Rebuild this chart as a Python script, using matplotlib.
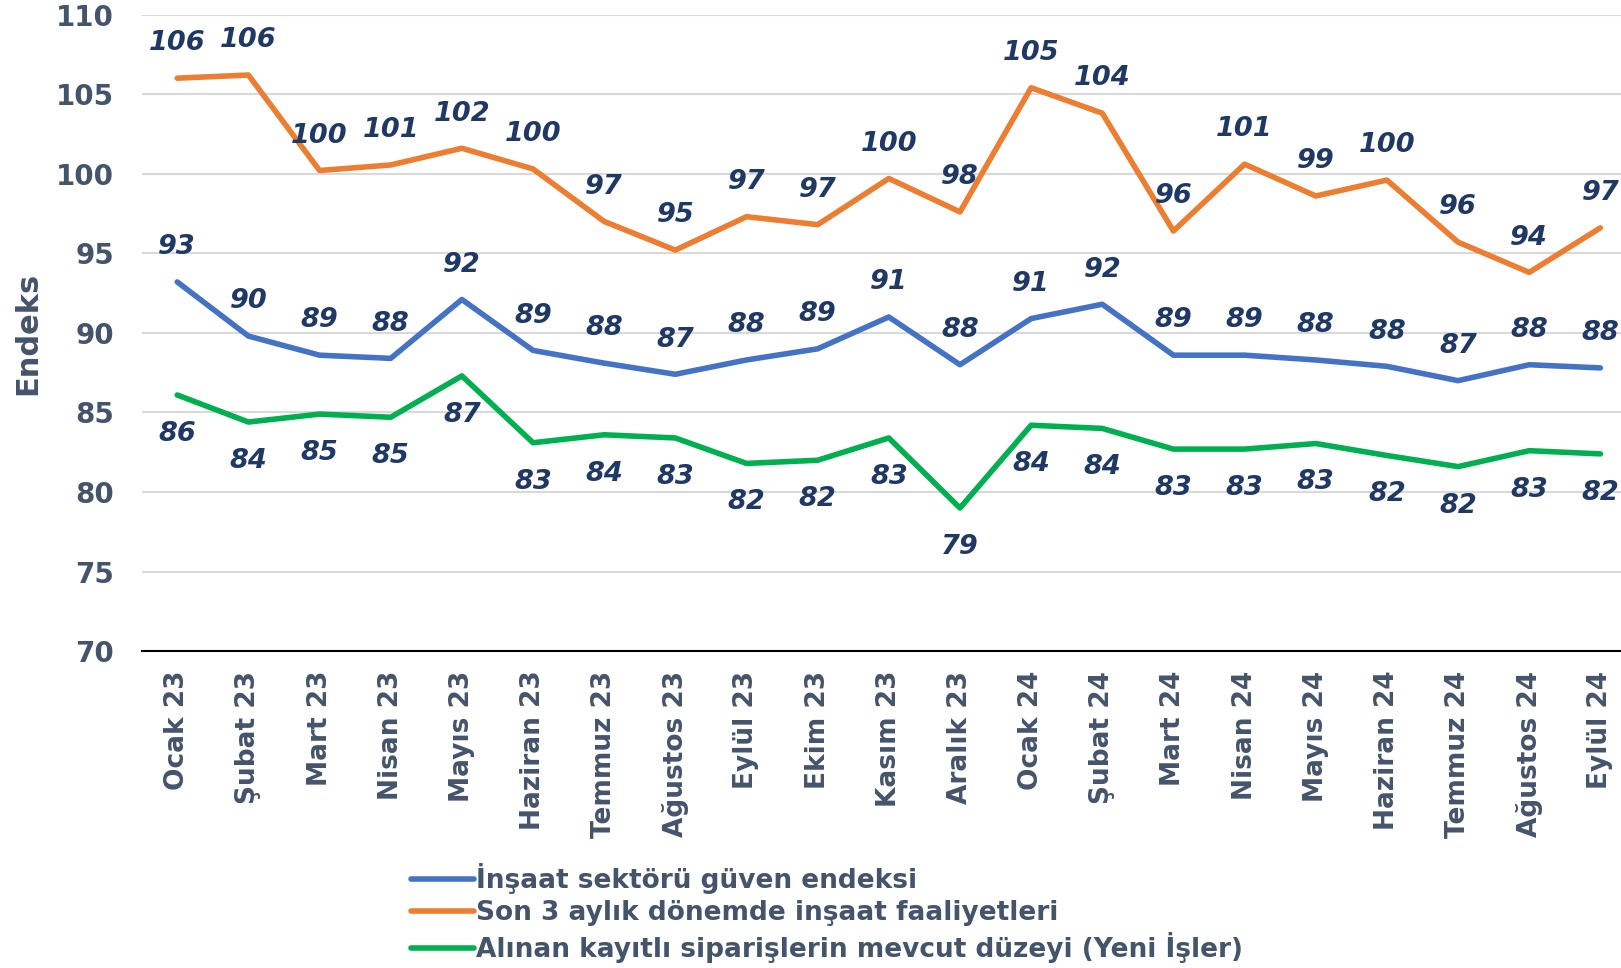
import matplotlib
matplotlib.use('Agg')
import matplotlib.pyplot as plt

# Aylar
months = ['Ocak 23', 'Şubat 23', 'Mart 23', 'Nisan 23', 'Mayıs 23', 'Haziran 23',
          'Temmuz 23', 'Ağustos 23', 'Eylül 23', 'Ekim 23', 'Kasım 23', 'Aralık 23',
          'Ocak 24', 'Şubat 24', 'Mart 24', 'Nisan 24', 'Mayıs 24', 'Haziran 24',
          'Temmuz 24', 'Ağustos 24', 'Eylül 24']

# Seriler
guven = [93.2, 89.8, 88.6, 88.4, 92.1, 88.9, 88.1, 87.4, 88.3, 89.0, 91.0,
         88.0, 90.9, 91.8, 88.6, 88.6, 88.3, 87.9, 87.0, 88.0, 87.8]
faaliyet = [106.0, 106.2, 100.2, 100.55, 101.6, 100.3, 97.0, 95.2, 97.3, 96.8, 99.7,
            97.6, 105.4, 103.8, 96.4, 100.6, 98.6, 99.6, 95.7, 93.8, 96.6]
siparis = [86.1, 84.4, 84.9, 84.7, 87.3, 83.1, 83.6, 83.4, 81.8, 82.0, 83.4,
           79.0, 84.2, 84.0, 82.7, 82.7, 83.05, 82.3, 81.6, 82.6, 82.4]

series_names = ['İnşaat sektörü güven endeksi',
                'Son 3 aylık dönemde inşaat faaliyetleri',
                'Alınan kayıtlı siparişlerin mevcut düzeyi (Yeni İşler)']

tick_color = '#44546A'
label_color = '#1F3864'

fig = plt.figure(figsize=(16.21, 9.68), dpi=100)
ax = fig.add_axes([0.0874, 0.3272, 0.9126, 0.6578])

x = list(range(len(months)))
l1, = ax.plot(x, guven, color='#4472C4', linewidth=4, solid_capstyle='round', zorder=3)
l2, = ax.plot(x, faaliyet, color='#ED7D31', linewidth=4, solid_capstyle='round', zorder=3)
l3, = ax.plot(x, siparis, color='#00B050', linewidth=4, solid_capstyle='round', zorder=3)

# Veri etiketleri
for vals, off in [(guven, 25), (faaliyet, 25), (siparis, -28)]:
    for xi, v in zip(x, vals):
        ax.annotate(f'{v:.0f}', (xi, v), xytext=(0, off), textcoords='offset points',
                    ha='center', va='center', fontsize=19.5, fontweight='bold',
                    fontstyle='italic', color=label_color, zorder=4)

ax.set_ylim(70, 110)
ax.set_yticks(range(70, 111, 5))
ax.set_xlim(-0.5, 20.29)
ax.set_xticks(x)
ax.set_xticklabels(months, rotation=90, fontsize=19, fontweight='bold', color=tick_color)
for t in ax.get_yticklabels():
    t.set_fontsize(20)
    t.set_fontweight('bold')
    t.set_color(tick_color)
ax.tick_params(axis='x', length=0, pad=14)
ax.tick_params(axis='y', length=0, pad=20)

ax.grid(axis='y', color='#D9D9D9', linewidth=1.5)
ax.set_axisbelow(True)
for s in ['top', 'right', 'left']:
    ax.spines[s].set_visible(False)
ax.spines['bottom'].set_color('#000000')
ax.spines['bottom'].set_linewidth(1.5)

ax.set_ylabel('Endeks', fontsize=22, fontweight='bold', color=tick_color, labelpad=10)

leg = fig.legend([l1, l2, l3], series_names, loc='upper left',
                 bbox_to_anchor=(0.247, 0.119), frameon=False,
                 handlelength=2.4, handletextpad=0.05, labelspacing=0.22,
                 borderaxespad=0, prop={'size': 19, 'weight': 'bold'})
for t in leg.get_texts():
    t.set_color(tick_color)

fig.savefig('out.png', dpi=100)
